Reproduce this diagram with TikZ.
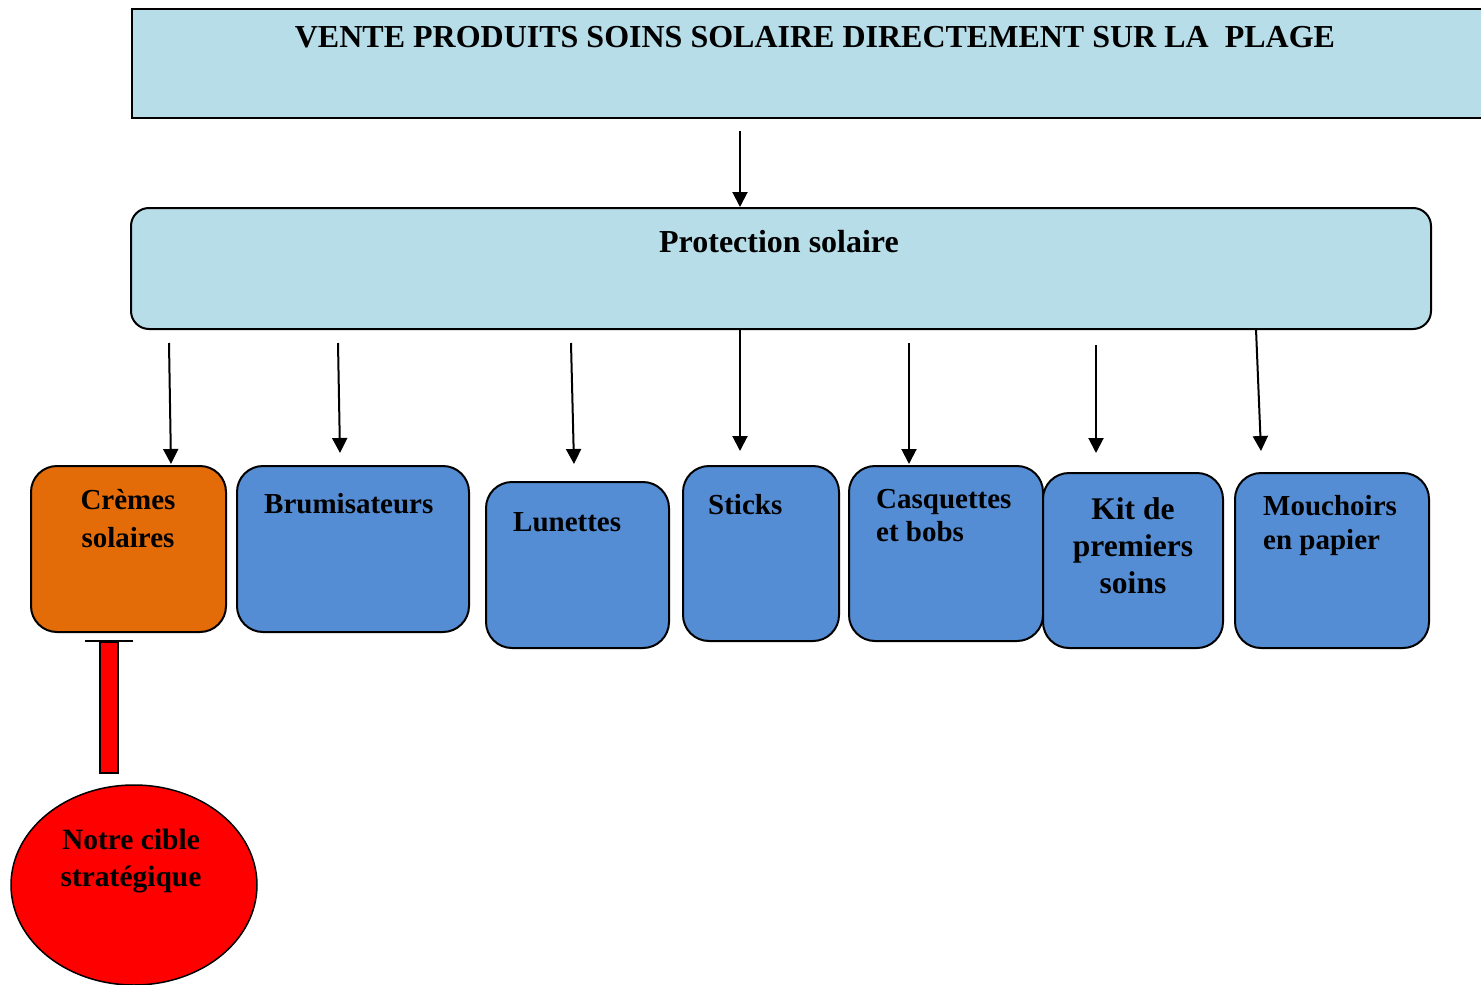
\documentclass[tikz,border=0pt]{standalone}
\usepackage{fontspec}
\setmainfont{Liberation Serif}
\usetikzlibrary{arrows.meta,shapes.geometric}
\definecolor{paleblue}{HTML}{B7DDE8}
\definecolor{itemblue}{HTML}{548DD4}
\definecolor{itemorange}{HTML}{E36C09}
\begin{document}
\begin{tikzpicture}[x=1pt,y=-1pt,
  box/.style={draw=black,line width=2pt,inner sep=0pt,anchor=north west},
  item/.style={box,fill=itemblue,rounded corners=26pt},
  % text whose first baseline lies 26pt below the node's north side
  lbl/.style 2 args={inner sep=0pt,font=\bfseries\fontsize{#1}{#2}\selectfont,
    execute at begin node={\rule{0pt}{26pt}}},
  feed/.style={line width=2pt,-{Triangle[width=15pt,length=15pt]}},
]
\useasboundingbox (0,0) rectangle (1481,985);

% header and category boxes
\node[box,fill=paleblue,minimum width=1370pt,minimum height=109pt] (title) at (131,8) {};
\node[box,fill=paleblue,rounded corners=18pt,minimum width=1300pt,minimum height=121pt] (prot) at (130,207) {};

\node[item,fill=itemorange,minimum width=195pt,minimum height=166pt] (creme) at (30,465) {};
\node[item,minimum width=232pt,minimum height=166pt] (brum) at (236,465) {};
\node[item,minimum width=183pt,minimum height=166pt] (lun) at (485,481) {};
\node[item,minimum width=156pt,minimum height=175pt] (sticks) at (682,465) {};
\node[item,minimum width=194pt,minimum height=175pt] (casq) at (848,465) {};
\node[item,minimum width=180pt,minimum height=175pt] (kit) at (1042,472) {};
\node[item,minimum width=194pt,minimum height=175pt] (mouch) at (1234,472) {};

% texts
\node[lbl={32}{38},anchor=north] (title-t) at (815,21) {VENTE PRODUITS SOINS SOLAIRE DIRECTEMENT SUR LA\ \ PLAGE};
\node[lbl={32}{38},anchor=north] (prot-t) at (779,226) {Protection solaire};
\node[lbl={29}{38},anchor=north,align=center] (creme-t) at (128,489) {Crèmes\\solaires};
\node[lbl={29}{37},anchor=north west] (brum-t) at (264,487) {Brumisateurs};
\node[lbl={29}{37},anchor=north west] (lun-t) at (513,505) {Lunettes};
\node[lbl={29}{37},anchor=north west] (sticks-t) at (708,488) {Sticks};
\node[lbl={29}{33},anchor=north west,align=left] (casq-t) at (876,489) {Casquettes\\et bobs};
\node[lbl={31.5}{37},anchor=north,align=center] (kit-t) at (1133,497) {Kit de\\premiers\\soins};
\node[lbl={29}{34},anchor=north west,align=left] (mouch-t) at (1263,495) {Mouchoirs\\en papier};

% arrows
\coordinate (h0) at (740,131);
\draw[feed] (h0) -- (h0 |- prot.north);
\coordinate (s1) at (169,343); \coordinate (e1) at (171,464);
\coordinate (s2) at (338,343); \coordinate (e2) at (340,453);
\coordinate (s3) at (571,343); \coordinate (e3) at (574,464);
\coordinate (s5) at (909,343); \coordinate (e5) at (909,464);
\coordinate (s6) at (1096,345); \coordinate (e6) at (1096,453);
\coordinate (e4) at (740,451);
\coordinate (s7) at (1256,329); \coordinate (e7) at (1261,451);
\draw[feed] (s1) -- (e1);
\draw[feed] (s2) -- (e2);
\draw[feed] (s3) -- (e3);
\draw[feed] (e4 |- prot.south) -- (e4);
\draw[feed] (s5) -- (e5);
\draw[feed] (s6) -- (e6);
\draw[feed] (s7) -- (e7);

% strategic target
\node[draw=black,line width=1.5pt,fill=red,inner sep=0pt,anchor=north west,
  minimum width=18pt,minimum height=131pt] (bar) at (99,641) {};
\draw[line width=2pt] ([xshift=-14pt]bar.north west) -- ([xshift=14pt]bar.north east);
\node[ellipse,draw=black,line width=1.5pt,fill=red,minimum width=246pt,minimum height=200pt] (cible) at (134,885) {};
\node[lbl={29.5}{37},anchor=north,align=center] (cible-t) at (131,829) {Notre cible\\stratégique};
\end{tikzpicture}
\end{document}
